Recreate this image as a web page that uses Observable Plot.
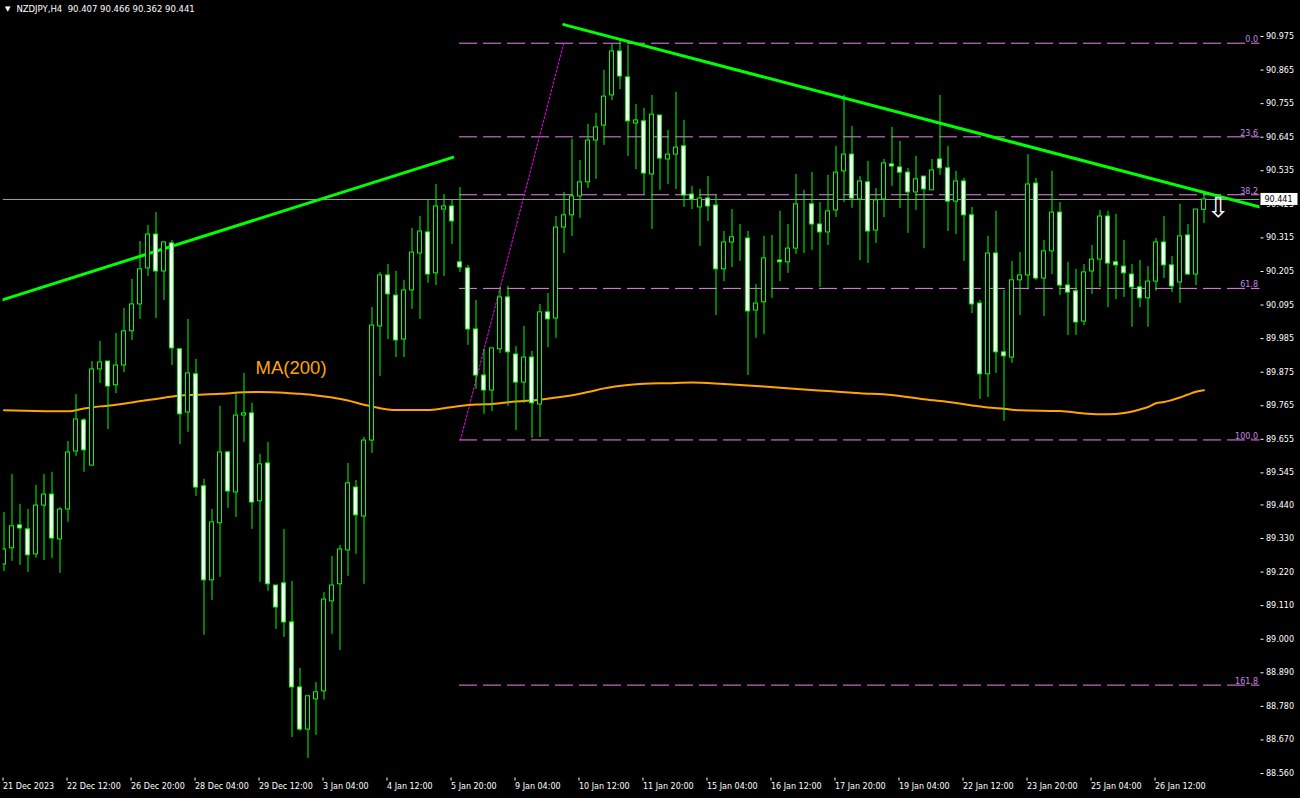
<!DOCTYPE html>
<html><head><meta charset="utf-8">
<script src="https://cdn.jsdelivr.net/npm/d3@7"></script>
<script src="https://cdn.jsdelivr.net/npm/@observablehq/plot@0.6"></script>
<style>
html,body{margin:0;padding:0;background:#000;overflow:hidden}
#wrap{position:relative;width:1300px;height:798px}
#hdr{position:absolute;left:5px;top:3px;color:#fff;font-family:"DejaVu Sans";font-size:8.5px;white-space:pre;line-height:12px}
#hdr .tri{font-size:7px;vertical-align:1px;margin-right:6px}
</style>
</head><body><div id="wrap"><div id="chart"></div><div id="hdr"></div></div>
<script>
// ---- header ----
const symbolName = "NZDJPY,H4";
const lastOHLC = [90.407, 90.466, 90.362, 90.441];

// ---- candles (H4) ----
const opens = [
89.245,89.298,89.373,89.360,89.278,89.438,89.474,89.327,89.425,89.615,
89.717,89.569,89.884,89.910,89.832,89.897,90.009,90.097,90.215,90.326,
90.205,90.297,89.950,89.743,89.868,89.501,89.193,89.380,89.612,89.481,
89.733,89.740,89.452,89.576,89.176,89.183,89.055,88.842,88.704,88.803,
88.829,89.124,89.180,89.291,89.497,89.402,89.651,90.025,90.192,90.126,
89.982,90.143,90.264,90.333,90.199,90.408,90.418,90.235,90.215,90.015,
89.864,89.815,89.950,90.120,89.933,89.841,89.923,89.769,90.071,90.051,
90.349,90.389,90.451,90.497,90.634,90.683,90.782,90.926,90.841,90.690,
90.697,90.523,90.716,90.572,90.588,90.615,90.457,90.415,90.444,90.421,
90.212,90.300,90.313,90.313,90.077,90.104,90.241,90.241,90.235,90.280,
90.425,90.425,90.359,90.333,90.405,90.533,90.588,90.441,90.497,90.339,
90.441,90.556,90.546,90.529,90.464,90.516,90.471,90.572,90.543,90.434,
90.500,90.389,90.100,89.868,90.264,89.940,89.923,90.176,90.192,90.493,
90.182,90.271,90.398,90.159,90.140,90.041,90.205,90.244,90.385,90.235,
90.221,90.195,90.153,90.117,90.172,90.300,90.225,90.169,90.323,90.195,
90.407];
const highs = [
89.415,89.540,89.442,89.425,89.504,89.540,89.547,89.432,89.648,89.802,
89.723,89.910,89.976,89.910,90.002,90.084,90.179,90.303,90.356,90.398,
90.303,90.307,89.950,90.048,89.917,89.524,89.425,89.763,89.615,89.805,
89.871,89.773,89.606,89.645,89.176,89.360,89.189,88.904,88.813,88.858,
89.153,89.271,89.307,89.576,89.520,89.661,90.087,90.202,90.228,90.205,
90.176,90.346,90.385,90.438,90.490,90.457,90.438,90.480,90.225,90.110,
89.950,89.953,90.153,90.156,89.959,90.025,89.943,90.097,90.133,90.385,
90.464,90.638,90.569,90.687,90.723,90.864,90.949,90.962,90.946,90.752,
90.739,90.782,90.716,90.667,90.792,90.700,90.484,90.474,90.516,90.454,
90.336,90.408,90.359,90.336,90.162,90.320,90.323,90.402,90.359,90.523,
90.471,90.529,90.431,90.520,90.615,90.782,90.680,90.516,90.566,90.477,
90.572,90.677,90.631,90.543,90.582,90.516,90.572,90.782,90.615,90.533,
90.510,90.415,90.110,90.320,90.402,90.143,90.238,90.267,90.588,90.510,
90.307,90.533,90.431,90.235,90.212,90.228,90.290,90.405,90.402,90.392,
90.307,90.228,90.241,90.221,90.313,90.385,90.254,90.425,90.359,90.408,
90.466];
const lows = [
89.222,89.255,89.242,89.219,89.265,89.258,89.265,89.216,89.383,89.599,
89.547,89.569,89.838,89.687,89.805,89.874,89.979,90.048,90.189,90.051,
90.110,89.897,89.638,89.678,89.468,89.013,89.127,89.203,89.429,89.399,
89.645,89.360,89.186,89.157,89.032,89.006,88.678,88.698,88.609,88.685,
88.800,89.016,88.963,89.206,89.278,89.180,89.609,89.861,89.982,89.923,
89.923,90.081,90.048,90.166,90.159,90.189,90.294,90.202,89.963,89.819,
89.737,89.746,89.936,89.763,89.684,89.773,89.658,89.661,89.956,89.986,
90.264,90.320,90.379,90.477,90.507,90.618,90.765,90.801,90.582,90.539,
90.457,90.343,90.471,90.490,90.474,90.415,90.408,90.287,90.369,90.061,
90.172,90.218,90.238,89.864,89.986,89.999,90.117,90.172,90.199,90.261,
90.264,90.274,90.153,90.290,90.382,90.431,90.412,90.241,90.231,90.297,
90.382,90.484,90.412,90.330,90.405,90.280,90.471,90.520,90.336,90.326,
90.238,90.067,89.786,89.792,89.871,89.714,89.904,90.061,90.149,90.176,
90.058,90.195,90.126,89.995,89.995,90.028,90.130,90.153,90.087,90.113,
90.120,90.022,90.087,90.022,90.140,90.182,90.136,90.100,90.192,90.159,
90.362];
const closes = [
89.294,89.370,89.363,89.275,89.438,89.474,89.330,89.425,89.612,89.720,
89.619,89.884,89.907,89.828,89.897,90.009,90.097,90.212,90.326,90.205,
90.300,89.953,89.737,89.871,89.497,89.193,89.383,89.612,89.484,89.733,
89.740,89.448,89.573,89.180,89.104,89.055,88.842,88.704,88.813,88.826,
89.130,89.176,89.294,89.511,89.406,89.651,90.028,90.192,90.130,89.979,
90.143,90.267,90.336,90.195,90.418,90.418,90.369,90.218,90.015,89.864,
89.815,89.953,90.120,89.940,89.841,89.923,89.773,90.071,90.048,90.349,
90.389,90.451,90.497,90.634,90.677,90.778,90.926,90.844,90.697,90.700,
90.526,90.719,90.575,90.588,90.611,90.454,90.441,90.444,90.418,90.212,
90.300,90.317,90.313,90.074,90.100,90.248,90.241,90.235,90.280,90.425,
90.425,90.359,90.333,90.402,90.529,90.588,90.444,90.500,90.336,90.438,
90.559,90.549,90.529,90.464,90.507,90.474,90.536,90.543,90.434,90.500,
90.389,90.097,89.868,90.264,89.940,89.927,90.176,90.192,90.490,90.182,
90.271,90.398,90.159,90.136,90.038,90.202,90.244,90.385,90.231,90.225,
90.199,90.153,90.117,90.172,90.300,90.225,90.156,90.320,90.195,90.408,
90.441];

// ---- MA(200) readings (bar index, value) ----
const maIndex = [0,4,8,10,12,14,16,18,20,22,24,27,30,32,35,37,39,41,43,45,47,49,53,55,57,59,61,64,67,70,73,75,78,80,83,86,90,95,100,103,107,111,115,119,121,123,125,127,132,135,138,140,142,143,144,145,146,147,148,149,150];
const maValue = [89.750,89.748,89.747,89.756,89.763,89.768,89.776,89.784,89.791,89.799,89.801,89.804,89.809,89.810,89.808,89.804,89.799,89.792,89.782,89.768,89.757,89.751,89.751,89.757,89.764,89.769,89.771,89.779,89.785,89.795,89.810,89.822,89.833,89.837,89.839,89.841,89.836,89.828,89.818,89.813,89.806,89.800,89.786,89.774,89.766,89.759,89.755,89.750,89.748,89.740,89.737,89.741,89.753,89.761,89.773,89.777,89.784,89.792,89.802,89.811,89.816];

// ---- trend lines (bar index, price) ----
const trend1Index = [-0.1, 56.1];
const trend1Price = [90.113, 90.579];
const trend2Index = [69.97, 157];
const trend2Price = [91.014, 90.416];

// ---- Fibonacci retracement ----
const fibLowIndex = 57.06, fibLowPrice = 89.653;
const fibHighIndex = 69.97, fibHighPrice = 90.953;
const fibLevels = [0, 23.6, 38.2, 61.8, 100, 161.8];
const fibLabels = ["0.0", "23.6", "38.2", "61.8", "100.0", "161.8"];

// ---- axes ----
const xTickIndex = [0,8,16,24,32,40,48,56,64,72,80,88,96,104,112,120,128,136,144];
const xTickLabels = ["21 Dec 2023","22 Dec 12:00","26 Dec 20:00","28 Dec 04:00","29 Dec 12:00","3 Jan 04:00","4 Jan 12:00","5 Jan 20:00","9 Jan 04:00","10 Jan 12:00","11 Jan 20:00","15 Jan 04:00","16 Jan 12:00","17 Jan 20:00","19 Jan 04:00","22 Jan 12:00","23 Jan 20:00","25 Jan 04:00","26 Jan 12:00"];
const yTickValues = [90.975,90.865,90.755,90.645,90.535,90.425,90.315,90.205,90.095,89.985,89.875,89.765,89.655,89.545,89.440,89.330,89.220,89.110,89.000,88.890,88.780,88.670,88.560];

// ---- annotations ----
const maLabel = {index: 31.45, price: 89.887, text: "MA(200)"};
const sellArrow = {index: 151.8, price: 90.412};

// ---- build ----
const candles = opens.map((o, i) => ({i, o, h: highs[i], l: lows[i], c: closes[i]}));
const maData = maIndex.map((i, k) => ({i, v: maValue[k]}));
const t1 = trend1Index.map((i, k) => ({i, p: trend1Price[k]}));
const t2 = trend2Index.map((i, k) => ({i, p: trend2Price[k]}));
const fibDiag = [{i: fibLowIndex, p: fibLowPrice}, {i: fibHighIndex, p: fibHighPrice}];
const fibData = fibLevels.map((lv, k) => ({p: fibHighPrice - (fibHighPrice - fibLowPrice) * lv / 100, label: fibLabels[k]}));
const lastClose = closes[closes.length - 1];

const GREEN = "#00ff00";
const FIB = "#ee82ee";

const chart = Plot.plot({
  width: 1300, height: 798,
  marginLeft: 2.5, marginRight: 40.5, marginTop: 0, marginBottom: 20.5,
  style: {background: "#000", color: "#fff", fontFamily: "DejaVu Sans", fontSize: "8px"},
  x: {type: "linear", domain: [0, 150], range: [3.5, 1203.5], label: null},
  y: {type: "linear", domain: [88.560, 90.975], range: [773, 36], label: null},
  marks: [
    Plot.axisY({anchor: "right", ticks: yTickValues, tickFormat: d3.format(".3f"), tickSize: 3, tickPadding: 3, line: true, label: null}),
    Plot.axisY({anchor: "left", ticks: [], line: true, label: null}),
    Plot.axisX({ticks: xTickIndex, tickFormat: d => xTickLabels[xTickIndex.indexOf(d)], tickSize: 3, tickPadding: 2, textAnchor: "start", dx: -1, line: true, label: null}),
    Plot.ruleY(fibData, {y: "p", x1: fibLowIndex - 0.12, x2: 160, stroke: FIB, strokeWidth: 1, strokeDasharray: "18,6", clip: true}),
    Plot.line(fibDiag, {x: "i", y: "p", stroke: "#ff00ff", strokeWidth: 1, strokeDasharray: "2,2", clip: true}),
    Plot.text(fibData, {y: "p", text: "label", frameAnchor: "right", textAnchor: "end", lineAnchor: "bottom", dx: -2, dy: -1, fill: "#c08ae8", fontSize: 8}),
    Plot.ruleY([lastClose], {stroke: "#a0a0a0", strokeWidth: 1, clip: true}),
    Plot.line(maData, {x: "i", y: "v", stroke: "#ffa500", strokeWidth: 2, curve: "monotone-x", clip: true}),
    Plot.line(t1, {x: "i", y: "p", stroke: GREEN, strokeWidth: 3, clip: true}),
    Plot.line(t2, {x: "i", y: "p", stroke: GREEN, strokeWidth: 3, clip: true}),
    Plot.ruleX(candles, {x: "i", y1: "l", y2: "h", stroke: GREEN, strokeWidth: 1, clip: true}),
    Plot.rect(candles, {x1: d => d.i - 0.25, x2: d => d.i + 0.25, y1: "o", y2: "c", fill: d => d.c < d.o ? "#ffffff" : "#000000", stroke: GREEN, strokeWidth: 1, clip: true}),
    Plot.text([maLabel], {x: "index", y: "price", text: "text", textAnchor: "start", fill: "#ffa500", fontSize: 18.5, fontFamily: "Liberation Sans"}),
    Plot.text([sellArrow], {x: "index", y: "price", text: () => "\u21E9", fill: "#ffffff", fontSize: 27, fontFamily: "DejaVu Sans"})
  ]
});
document.getElementById("chart").appendChild(chart);

// current price tag on the axis, placed with the chart's own y scale
const ys = chart.scale("y");
const yScale = d3.scaleLinear(ys.domain, ys.range);
const yTag = yScale(lastClose);
const svg = d3.select(chart);
const tag = svg.append("g").attr("text-anchor", "start");
tag.append("rect").attr("x", 1260.5).attr("y", yTag - 6).attr("width", 37).attr("height", 12).attr("fill", "#fff");
tag.append("text").attr("x", 1264.5).attr("y", yTag).attr("dy", "0.35em").attr("fill", "#000")
  .attr("text-anchor", "start").attr("font-family", "DejaVu Sans").attr("font-size", 8).text(d3.format(".3f")(lastClose));

document.getElementById("hdr").innerHTML = '<span class="tri">\u25BC</span>' + symbolName + "  " + lastOHLC.map(d3.format(".3f")).join(" ");
</script>
</body></html>
